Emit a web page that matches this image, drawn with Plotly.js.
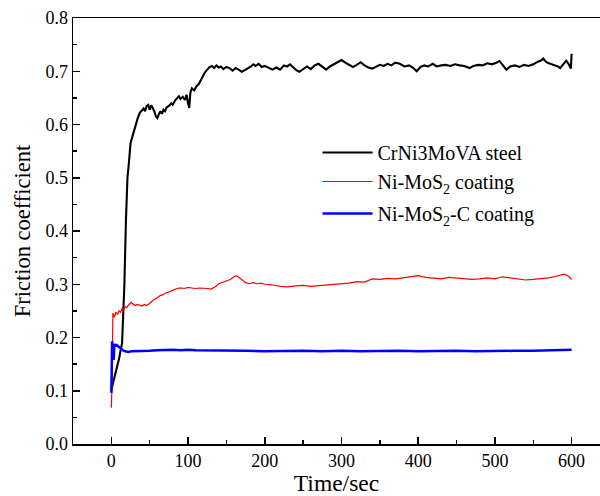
<!DOCTYPE html>
<html><head><meta charset="utf-8">
<script src="https://cdn.plot.ly/plotly-3.0.1.min.js"></script>
<style>html,body{margin:0;padding:0;background:#fff}#c{width:600px;height:496px}</style>
</head><body><div id="c"></div>
<script>
const steelT = [0,5,10,14,17,19,21,23,25,28,31,34,37,40,42,44,46,48,50,52,54,56,58,60,62,64,66,68,70,72,75,78,80,83,86,88,90,93,96,98,100,101.5,103,105,108,111,114,116,119,122,125,128,131,134,137,140,143,146,150,154,158,162,166,170,174,178,182,185,188,192,196,200,205,210,215,220,225,229,233,237,241,245,250,255,260,265,270,275,280,285,290,295,300,305,310,315,320,325,330,335,340,345,350,355,360,365,370,376,382,388,393,398,403,408,413,419,424,430,436,442,448,454,460,467,472,478,484,490,496,502,506,510,515,520,526,532,538,544,550,556,560,563,567,572,577,582,585,589,593,596,598,599,600];
const steelV = [0.102,0.13,0.16,0.19,0.30,0.42,0.50,0.53,0.565,0.58,0.596,0.61,0.622,0.627,0.63,0.625,0.635,0.637,0.628,0.636,0.63,0.625,0.615,0.612,0.62,0.625,0.62,0.628,0.625,0.632,0.635,0.64,0.637,0.645,0.65,0.653,0.648,0.652,0.646,0.656,0.64,0.631,0.66,0.668,0.664,0.672,0.676,0.682,0.69,0.698,0.703,0.708,0.71,0.706,0.711,0.707,0.709,0.704,0.708,0.706,0.701,0.706,0.703,0.699,0.702,0.705,0.709,0.713,0.71,0.714,0.708,0.71,0.706,0.703,0.707,0.703,0.711,0.709,0.713,0.707,0.702,0.699,0.704,0.709,0.704,0.711,0.714,0.708,0.703,0.709,0.713,0.717,0.721,0.716,0.712,0.708,0.712,0.717,0.711,0.707,0.705,0.709,0.712,0.71,0.714,0.711,0.716,0.714,0.709,0.711,0.707,0.70,0.708,0.711,0.709,0.714,0.709,0.711,0.712,0.71,0.713,0.711,0.71,0.706,0.71,0.712,0.711,0.715,0.713,0.716,0.719,0.712,0.703,0.709,0.711,0.708,0.712,0.71,0.713,0.718,0.72,0.724,0.717,0.714,0.712,0.709,0.706,0.713,0.72,0.714,0.707,0.705,0.733];

const mosT = [0,1,2,4,6,8,10,12,14,16,18,20,23,26,28,31,34,37,40,43,46,49,52,55,58,61,64,67,70,74,78,82,86,90,95,100,105,110,115,120,125,130,135,140,145,150,155,160,163,166,170,175,180,185,190,195,200,210,220,230,240,250,260,270,280,290,300,310,320,330,340,350,360,370,380,390,400,410,420,430,440,450,460,470,480,490,500,510,520,530,540,550,560,570,580,590,595,600];
const mosV = [0.068,0.12,0.246,0.238,0.248,0.243,0.25,0.247,0.255,0.253,0.258,0.256,0.262,0.266,0.263,0.26,0.262,0.26,0.259,0.262,0.26,0.263,0.268,0.271,0.273,0.276,0.279,0.28,0.283,0.285,0.288,0.29,0.292,0.293,0.292,0.294,0.293,0.292,0.293,0.293,0.292,0.291,0.295,0.301,0.304,0.306,0.309,0.314,0.316,0.313,0.308,0.303,0.301,0.303,0.301,0.302,0.30,0.299,0.296,0.295,0.297,0.298,0.296,0.297,0.299,0.30,0.30,0.302,0.305,0.304,0.31,0.309,0.311,0.31,0.312,0.314,0.316,0.313,0.312,0.31,0.313,0.312,0.311,0.309,0.31,0.312,0.31,0.314,0.312,0.31,0.308,0.309,0.31,0.312,0.315,0.319,0.316,0.309];

const mosCT = [0,1,2,3,4,5,7,9,11,13,15,18,22,26,30,40,50,60,70,80,90,100,110,120,130,140,150,175,200,225,250,275,300,325,350,375,400,425,450,475,500,525,550,575,600];
const mosCV = [0.096,0.193,0.17,0.158,0.188,0.184,0.186,0.183,0.18,0.178,0.176,0.174,0.173,0.174,0.174,0.175,0.175,0.176,0.177,0.177,0.176,0.177,0.176,0.176,0.176,0.175,0.175,0.175,0.174,0.175,0.175,0.174,0.175,0.174,0.175,0.175,0.174,0.175,0.175,0.174,0.175,0.175,0.175,0.176,0.177];

const names = ['CrNi3MoVA steel','Ni-MoS<sub>2</sub> coating','Ni-MoS<sub>2</sub>-C coating'];

const FAM = 'Liberation Serif';
const traces = [
  {x: steelT, y: steelV, name: names[0], legendgroup: 'a', mode: 'lines', line: {color: '#000000', width: 2.1}},
  {x: mosT, y: mosV, name: names[1], legendgroup: 'a', mode: 'lines', line: {color: '#ff0000', width: 1.2}},
  {x: mosCT, y: mosCV, name: names[2], legendgroup: 'b', mode: 'lines', line: {color: '#0000ff', width: 2.5}}
];
const layout = {
  width: 600, height: 496,
  margin: {l: 73, r: 0, t: 18, b: 52},
  paper_bgcolor: '#fff', plot_bgcolor: '#fff',
  font: {family: FAM, size: 18, color: '#000'},
  showlegend: true,
  legend: {x: 0.464, y: 0.73, xanchor: 'left', yanchor: 'top', bgcolor: 'rgba(0,0,0,0)', font: {family: FAM, size: 20, color: '#000'}, itemwidth: 50, traceorder: 'grouped', tracegroupgap: 3},
  xaxis: {
    range: [-50, 637], showgrid: false, zeroline: false,
    showline: true, linecolor: '#000', linewidth: 1.5, mirror: true,
    ticks: 'inside', ticklen: 7, tickwidth: 1.5, tickcolor: '#000',
    tickmode: 'linear', tick0: 0, dtick: 100,
    minor: {ticks: 'inside', ticklen: 4, tickwidth: 1.5, tickcolor: '#000', dtick: 50, tick0: 0},
    tickfont: {family: FAM, size: 18, color: '#000'},
    title: {text: 'Time/sec', font: {family: FAM, size: 23.5, color: '#000'}, standoff: 5}
  },
  yaxis: {
    range: [0, 0.8], showgrid: false, zeroline: false,
    showline: true, linecolor: '#000', linewidth: 1.5,
    ticks: 'inside', ticklen: 7, tickwidth: 1.5, tickcolor: '#000',
    tickmode: 'linear', tick0: 0, dtick: 0.1, tickformat: '.1f',
    minor: {ticks: 'inside', ticklen: 4, tickwidth: 1.5, tickcolor: '#000', dtick: 0.05, tick0: 0},
    tickfont: {family: FAM, size: 18, color: '#000'},
    title: {text: 'Friction coefficient', font: {family: FAM, size: 22.5, color: '#000'}, standoff: 8}
  }
};
Plotly.newPlot('c', traces, layout, {displayModeBar: false, staticPlot: true});
</script></body></html>
